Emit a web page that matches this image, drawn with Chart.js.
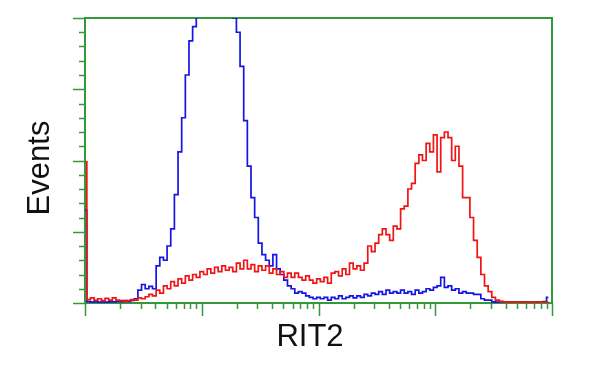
<!DOCTYPE html>
<html>
<head>
<meta charset="utf-8">
<script src="https://cdn.jsdelivr.net/npm/chart.js@4/dist/chart.umd.min.js"></script>
<style>
  html, body { margin: 0; padding: 0; background: #fff; }
</style>
</head>
<body>
<canvas id="histChart" width="600" height="375"></canvas>
<script>
// 128 channels spread evenly over 4 log decades (10^0 .. 10^4)
const decades = 4;
const channels = 128;

// event counts, scaled so the top of the plot is 100
const blueCounts = [
  32.6, 0.5, 0.3, 0.5, 0.3, 0.4, 0.3, 0.5, 0.4, 0.6,
  0.5, 0.8, 0.6, 0.9, 1.5, 4.5, 6.5, 5, 5.8, 5,
  13, 16, 15, 20, 26, 38, 53, 65, 80, 92,
  97, 110, 120, 130, 136, 138, 137, 132, 124, 115,
  106, 100, 95, 83, 64, 48, 37, 30, 21, 17,
  15, 13, 17, 12, 10, 8, 6, 5, 3.5, 4,
  3.5, 2.5, 2, 1.5, 2, 1.5, 2, 1, 2, 1.5,
  2.5, 1.5, 2, 2.5, 1.8, 2.5, 2, 3, 2.5, 3.5,
  3, 4, 3, 4.5, 3.5, 4, 3.5, 4.5, 3.5, 4,
  3, 4.5, 3.5, 4, 5, 4.5, 5.5, 6, 9, 5.5,
  6, 4.5, 5, 3.5, 4, 3.5, 3.5, 3, 3, 1.5,
  1, 1, 0.4, 0.3, 0.5, 0.3, 0.4, 0.3, 0.3, 0.4,
  0.3, 0.4, 0.3, 0.3, 0.4, 0.3, 0.5, 2
];
const redCounts = [
  49.5, 1.2, 1.8, 1, 1.5, 0.8, 1.6, 1, 1.8, 1,
  0.8, 0.6, 0.8, 1.2, 1, 1.8, 1.5, 2.2, 3, 2.5,
  4.5, 3.5, 6, 5, 7.5, 6, 8.5, 7, 9.5, 8,
  10, 9, 11, 10, 12, 10.5, 12.5, 11, 13, 11.5,
  12.5, 11, 14, 12, 15, 12, 13.5, 11, 13, 11.5,
  13, 10.5, 12, 10, 11, 9, 10.5, 9, 10.5, 9,
  8, 9.5, 8, 7, 8.5, 7.5, 9, 7, 10.5, 11,
  9.5, 12, 10, 14, 12, 13, 11.5, 14, 20, 18,
  21, 24, 26, 24, 22, 27, 26, 33, 34, 40,
  42, 49, 52, 50, 56, 53, 59, 46, 58, 60,
  58, 50, 55, 48, 37, 37, 30, 22, 16, 10,
  6, 4, 2, 1, 0.6, 0.4, 0.3, 0.4, 0.3, 0.3,
  0.4, 0.3, 0.3, 0.4, 0.3, 0.3, 0.3, 0.4
];

const xLabel = 'RIT2';
const yLabel = 'Events';

const green = '#33993a';

function toPoints(counts) {
  return counts.map((v, i) => ({ x: Math.pow(10, i * decades / channels), y: v }));
}

const framePlugin = {
  id: 'frame',
  beforeDatasetsDraw(chart) {
    const { ctx, chartArea: { left, right, top, bottom }, scales: { x, y } } = chart;
    ctx.save();
    ctx.strokeStyle = green;
    ctx.lineWidth = 2;
    ctx.strokeRect(left, top, right - left, bottom - top);

    // log ticks under the x axis
    ctx.lineWidth = 1.5;
    for (let d = 0; d <= decades; d++) {
      for (let k = 1; k <= 9; k++) {
        if (d === decades && k > 1) break;
        const px = Math.round(x.getPixelForValue(k * Math.pow(10, d))) + 0.5;
        const len = k === 1 ? 13 : 6;
        ctx.beginPath();
        ctx.moveTo(px, bottom);
        ctx.lineTo(px, bottom + len);
        ctx.stroke();
      }
    }
    // ticks left of the y axis
    for (let v = 0; v <= 100; v += 5) {
      const py = Math.round(y.getPixelForValue(v)) + 0.5;
      const len = v % 25 === 0 ? 12 : 6;
      ctx.beginPath();
      ctx.moveTo(left - len, py);
      ctx.lineTo(left, py);
      ctx.stroke();
    }
    ctx.restore();
  },
  afterDraw(chart) {
    const { ctx } = chart;
    ctx.save();
    ctx.fillStyle = '#111';
    ctx.font = '31px "Liberation Sans", Arial, sans-serif';
    ctx.textAlign = 'center';
    ctx.textBaseline = 'middle';
    ctx.fillText(xLabel, 310, 337);
    ctx.translate(40, 168);
    ctx.rotate(-Math.PI / 2);
    ctx.fillText(yLabel, 0, 0);
    ctx.restore();
  }
};

new Chart('histChart', {
  type: 'line',
  data: {
    datasets: [
      {
        label: 'red',
        data: toPoints(redCounts),
        borderColor: '#f01414',
        borderWidth: 1.7,
        pointRadius: 0,
        stepped: 'middle'
      },
      {
        label: 'blue',
        data: toPoints(blueCounts),
        borderColor: '#1414e6',
        borderWidth: 1.7,
        pointRadius: 0,
        stepped: 'middle'
      }
    ]
  },
  options: {
    responsive: false,
    animation: false,
    layout: { padding: { left: 85, right: 48, top: 18, bottom: 72 } },
    plugins: { legend: { display: false }, tooltip: { enabled: false } },
    scales: {
      x: { type: 'logarithmic', min: 1, max: Math.pow(10, decades), display: false },
      y: { type: 'linear', min: 0, max: 100, display: false }
    }
  },
  plugins: [framePlugin]
});
</script>
</body>
</html>
